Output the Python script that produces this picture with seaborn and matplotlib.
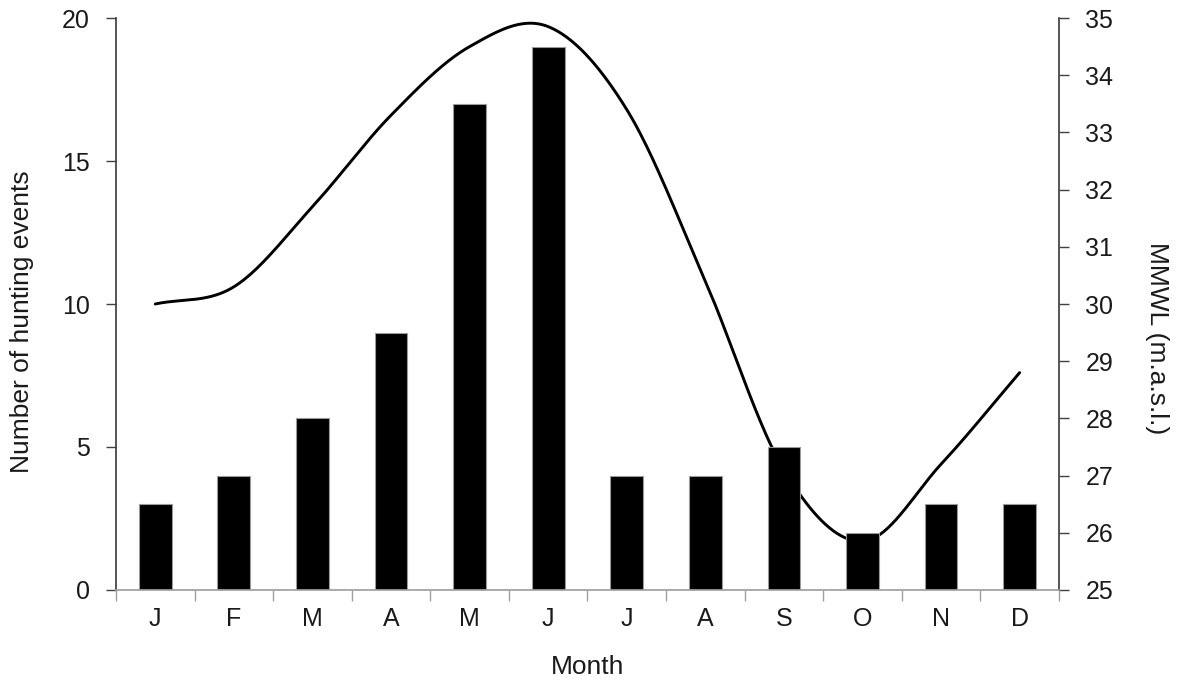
import numpy as np
import pandas as pd
import matplotlib
matplotlib.use("Agg")
import matplotlib.pyplot as plt
import seaborn as sns

# Monthly data
months = ["Jan", "Feb", "Mar", "Apr", "May", "Jun",
          "Jul", "Aug", "Sep", "Oct", "Nov", "Dec"]
month_labels = ["J", "F", "M", "A", "M", "J", "J", "A", "S", "O", "N", "D"]
hunting_events = [3, 4, 6, 9, 17, 19, 4, 4, 5, 2, 3, 3]
mmwl = [30.0, 30.3, 31.7, 33.3, 34.5, 34.85, 33.4, 30.4, 27.1, 25.85, 27.2, 28.8]

sns.set_theme(style="white")
plt.rcParams["font.family"] = ["Liberation Sans", "DejaVu Sans"]

df = pd.DataFrame({"month": months, "events": hunting_events})

fig = plt.figure(figsize=(11.82, 6.85), dpi=100)
ax = fig.add_axes([0.0981, 0.1387, 0.7978, 0.8350])
ax2 = ax.twinx()

# Bars drawn above the water-level curve
ax.set_zorder(ax2.get_zorder() + 1)
ax.patch.set_visible(False)

sns.barplot(data=df, x="month", y="events", order=months, color="black",
            width=0.416, edgecolor="#9a9a9a", linewidth=0.8, saturation=1,
            ax=ax)


def smooth_curve(y, n=40):
    """Catmull-Rom style smoothing through the monthly points."""
    y = np.asarray(y, dtype=float)
    x = np.arange(len(y), dtype=float)
    px = np.concatenate([[2 * x[0] - x[1]], x, [2 * x[-1] - x[-2]]])
    py = np.concatenate([[2 * y[0] - y[1]], y, [2 * y[-1] - y[-2]]])
    xs, ys = [], []
    for i in range(1, len(px) - 2):
        t = np.linspace(0, 1, n, endpoint=(i == len(px) - 3))
        for arr, out in ((px, xs), (py, ys)):
            p0, p1, p2, p3 = arr[i - 1], arr[i], arr[i + 1], arr[i + 2]
            out.append(0.5 * ((2 * p1) + (-p0 + p2) * t
                              + (2 * p0 - 5 * p1 + 4 * p2 - p3) * t ** 2
                              + (-p0 + 3 * p1 - 3 * p2 + p3) * t ** 3))
    return np.concatenate(xs), np.concatenate(ys)


cx, cy = smooth_curve(mmwl)
ax2.plot(cx, cy, color="black", lw=2.1, solid_capstyle="round")

# Axes limits and ticks
ax.set_xlim(-0.5, len(months) - 0.5)
ax.set_ylim(0, 20)
ax2.set_ylim(25, 35)
ax.set_yticks([0, 5, 10, 15, 20])
ax2.set_yticks(range(25, 36))

text_color = "#1a1a1a"
tick_size = 18
ax.set_xticks(range(len(months)))
ax.set_xticklabels(month_labels)
ax.set_xticks(np.arange(-0.5, len(months)), minor=True)
ax.tick_params(axis="x", which="major", length=0, pad=12,
               labelsize=tick_size, colors=text_color)
ax.tick_params(axis="x", which="minor", length=8, width=1,
               color="#a0a0a0", direction="out", bottom=True)
ax.tick_params(axis="y", length=7, width=1, color="#404040",
               direction="out", left=True, labelsize=tick_size, pad=12,
               labelcolor=text_color)
ax2.tick_params(axis="y", length=7, width=1, color="#404040",
                direction="out", right=True, labelsize=tick_size, pad=12,
                labelcolor=text_color)

for a in (ax, ax2):
    a.spines["top"].set_visible(False)
    a.spines["bottom"].set_color("#a0a0a0")
    a.spines["left"].set_color("#404040")
    a.spines["right"].set_color("#404040")
ax.spines["right"].set_visible(False)
ax2.spines["left"].set_visible(False)
ax2.spines["bottom"].set_visible(False)

ax.set_xlabel("Month", fontsize=19, color=text_color)
ax.xaxis.set_label_coords(0.5, -0.114)
ax.set_ylabel("Number of hunting events", fontsize=19, color=text_color)
ax.yaxis.set_label_coords(-0.087, 0.4685)
ax2.set_ylabel("MMWL (m.a.s.l.)", fontsize=19, rotation=270,
               color=text_color, va="bottom")
ax2.yaxis.set_label_coords(1.091, 0.44)

fig.savefig("out.png", dpi=100)
